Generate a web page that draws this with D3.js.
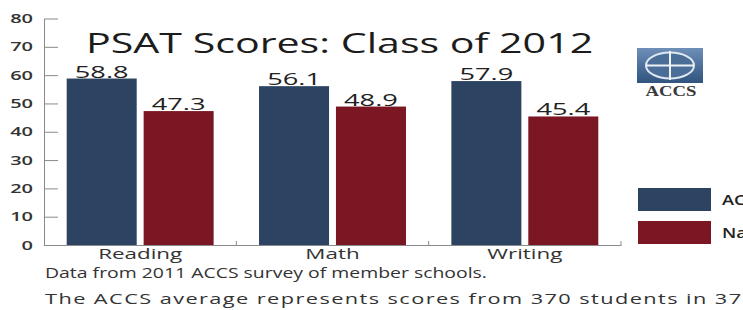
<!DOCTYPE html>
<html>
<head>
<meta charset="utf-8">
<script src="https://cdn.jsdelivr.net/npm/d3@7"></script>
<style>
  html, body { margin: 0; padding: 0; background: #fff; overflow: hidden; }
  svg { display: block; font-family: "Open Sans", sans-serif; }
</style>
</head>
<body>
<svg id="chart" width="743" height="310"></svg>
<script>
// chart data
const categories = ["Reading", "Math", "Writing"];
const seriesNames = ["ACCS Average", "National Average"];
const accsScores = [58.8, 56.1, 57.9];
const nationalScores = [47.3, 48.9, 45.4];
const yTicks = [0, 10, 20, 30, 40, 50, 60, 70, 80];
const titleText = "PSAT Scores: Class of 2012";
const notes = [
    "Data from 2011 ACCS survey of member schools.",
    "The ACCS average represents scores from 370 students in 37 schools."
];

const colors = { "ACCS Average": "#2c4362", "National Average": "#7a1723" };

const svg = d3.select("#chart");

const x0 = d3.scaleBand().domain(categories).range([44, 621]);
const x1 = d3.scaleBand().domain(seriesNames).range([0, x0.bandwidth()])
    .paddingInner(0.09).paddingOuter(0.295);
const y = d3.scaleLinear().domain([0, 80]).range([245, 18.5]);

// horizontally stretched text helper (the original art is wide)
function wideText(sel, x, yy, sx) {
    return sel.attr("transform", `translate(${x},${yy}) scale(${sx},1)`);
}

// title
wideText(svg.append("text"), 86, 53, 1.47)
    .attr("font-size", 28)
    .attr("fill", "#1c1c1c")
    .text(titleText);

// y axis, ticks pointing inward
const yAxis = svg.append("g")
    .attr("transform", "translate(44,0)")
    .call(d3.axisLeft(y).tickValues(yTicks).tickSize(-14).tickPadding(11).tickSizeOuter(0));
yAxis.select(".domain").attr("stroke", "#8a8a8a");
yAxis.selectAll(".tick line").attr("stroke", "#8a8a8a");
yAxis.selectAll(".tick text")
    .attr("font-family", "'Open Sans', sans-serif")
    .attr("font-size", 12.5)
    .attr("font-weight", 600)
    .attr("fill", "#333")
    .attr("x", -11 / 1.6)
    .attr("transform", "scale(1.6,1)");

// bars
const groups = svg.append("g").selectAll("g")
    .data(categories)
    .join("g")
    .attr("transform", d => `translate(${x0(d)},0)`);

const barData = (c, i) => [
    { key: seriesNames[0], value: accsScores[i] },
    { key: seriesNames[1], value: nationalScores[i] }
];

groups.selectAll("rect")
    .data(barData)
    .join("rect")
    .attr("x", d => x1(d.key))
    .attr("y", d => y(d.value))
    .attr("width", x1.bandwidth())
    .attr("height", d => y(0) - y(d.value))
    .attr("fill", d => colors[d.key]);

groups.selectAll("text.val")
    .data(barData)
    .join("text")
    .attr("class", "val")
    .attr("text-anchor", "middle")
    .attr("font-size", 17)
    .attr("fill", "#222")
    .attr("transform", d => `translate(${x1(d.key) + x1.bandwidth() / 2},${y(d.value) - 1}) scale(1.6,1)`)
    .text(d => d.value.toFixed(1));

// x axis
const xAxis = svg.append("g")
    .attr("transform", "translate(0,245)")
    .call(d3.axisBottom(x0).tickSize(0).tickPadding(4).tickSizeOuter(0));
xAxis.select(".domain").attr("stroke", "#8a8a8a");
xAxis.selectAll(".tick text")
    .attr("font-family", "'Open Sans', sans-serif")
    .attr("font-size", 14)
    .attr("fill", "#333")
    .attr("transform", "scale(1.6,1)");
// boundary ticks between categories
xAxis.selectAll("line.bound")
    .data(categories)
    .join("line")
    .attr("class", "bound")
    .attr("x1", d => x0(d) + x0.bandwidth())
    .attr("x2", d => x0(d) + x0.bandwidth())
    .attr("y1", 0)
    .attr("y2", -4)
    .attr("stroke", "#8a8a8a");

// notes (second line is set wider in the original)
notes.forEach((n, i) => {
    wideText(svg.append("text"), 45, 278 + i * 26, i === 1 ? 1.5 : 1.34)
        .attr("font-size", 14.5)
        .attr("letter-spacing", i === 1 ? 0.95 : 0)
        .attr("fill", "#333")
        .text(n);
});

// legend
const legend = svg.append("g").attr("transform", "translate(638,188)");
seriesNames.forEach((s, i) => {
    legend.append("rect")
        .attr("x", 0)
        .attr("y", i * 33)
        .attr("width", 73)
        .attr("height", 23)
        .attr("fill", colors[s]);
    wideText(legend.append("text"), 84, i * 33 + 17, 1.35)
        .attr("font-size", 13.5)
        .attr("font-weight", 600)
        .attr("fill", "#222")
        .text(s);
});

// ACCS logo
const logo = svg.append("g").attr("transform", "translate(637,48)");
const grad = svg.append("defs").append("linearGradient")
    .attr("id", "lg").attr("x1", 0).attr("y1", 0).attr("x2", 0).attr("y2", 1);
grad.append("stop").attr("offset", "0%").attr("stop-color", "#6d8fb8");
grad.append("stop").attr("offset", "100%").attr("stop-color", "#30537f");
logo.append("rect").attr("width", 66).attr("height", 35).attr("fill", "url(#lg)");
logo.append("ellipse").attr("cx", 33).attr("cy", 17.5).attr("rx", 24).attr("ry", 13)
    .attr("fill", "#4b6e99").attr("stroke", "#dfe8f2").attr("stroke-width", 2);
logo.append("line").attr("x1", 9).attr("x2", 57).attr("y1", 17.5).attr("y2", 17.5)
    .attr("stroke", "#eef3f8").attr("stroke-width", 2);
logo.append("line").attr("x1", 33).attr("x2", 33).attr("y1", 3).attr("y2", 32)
    .attr("stroke", "#eef3f8").attr("stroke-width", 2);
wideText(logo.append("text"), 34, 48, 1.25)
    .attr("text-anchor", "middle")
    .attr("font-family", "'Liberation Serif', serif")
    .attr("font-size", 15)
    .attr("font-weight", 700)
    .attr("fill", "#3a3a3a")
    .text("ACCS");
</script>
</body>
</html>
